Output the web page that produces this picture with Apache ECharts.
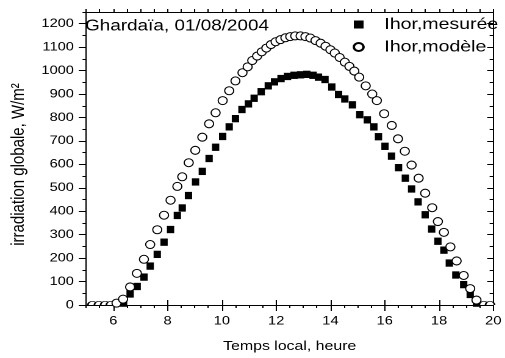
<!DOCTYPE html>
<html><head><meta charset="utf-8">
<script src="https://cdn.jsdelivr.net/npm/echarts@6/dist/echarts.min.js"></script>
<style>
html,body{margin:0;padding:0;background:#fff;overflow:hidden}
#wrap{width:505px;height:358px;overflow:hidden;position:relative;background:#fff}
#chart{width:414px;height:358px;transform:scaleX(1.22);transform-origin:0 0}
</style></head><body><div id="wrap"><div id="chart"></div></div>
<script>
// ---- data ----
const hoursMeasured = [6.38, 6.62, 6.88, 7.13, 7.36, 7.62, 7.87, 8.11, 8.36, 8.54, 8.77, 9.03, 9.28, 9.53, 9.77, 10.03, 10.27, 10.50, 10.74, 10.98, 11.19, 11.45, 11.71, 11.94, 12.18, 12.42, 12.66, 12.90, 13.13, 13.36, 13.56, 13.80, 14.05, 14.30, 14.53, 14.81, 15.08, 15.36, 15.60, 15.77, 16.01, 16.25, 16.51, 16.76, 16.99, 17.23, 17.49, 17.73, 17.96, 18.18, 18.38, 18.62, 18.91, 19.15, 19.38];
const irrMeasured = [8, 47, 79, 119, 166, 216, 268, 322, 382, 414, 467, 525, 570, 625, 673, 719, 760, 795, 834, 858, 882, 910, 935, 952, 966, 975, 980, 982, 984, 980, 972, 962, 930, 898, 879, 854, 812, 790, 760, 718, 677, 635, 586, 541, 495, 440, 385, 324, 272, 234, 179, 128, 87, 45, 8];
const hoursModel = [5.23, 5.47, 5.70, 5.91, 6.12, 6.36, 6.62, 6.87, 7.13, 7.36, 7.62, 7.87, 8.11, 8.36, 8.54, 8.78, 9.02, 9.28, 9.53, 9.77, 10.03, 10.27, 10.50, 10.76, 10.95, 11.12, 11.30, 11.47, 11.64, 11.81, 11.98, 12.16, 12.34, 12.52, 12.70, 12.90, 13.08, 13.26, 13.45, 13.64, 13.82, 14.00, 14.16, 14.34, 14.53, 14.70, 14.88, 15.06, 15.30, 15.54, 15.71, 15.98, 16.26, 16.49, 16.74, 16.99, 17.25, 17.49, 17.75, 17.96, 18.18, 18.42, 18.65, 18.91, 19.15, 19.38, 19.65, 19.88];
const irrModel = [0, 0, 0, 0, 8, 25, 77, 135, 195, 258, 321, 383, 447, 506, 547, 607, 660, 716, 773, 820, 872, 914, 956, 991, 1016, 1043, 1062, 1080, 1096, 1111, 1123, 1132, 1140, 1145, 1148, 1148, 1145, 1139, 1128, 1117, 1104, 1089, 1075, 1056, 1036, 1018, 998, 972, 935, 900, 872, 816, 766, 709, 656, 597, 541, 477, 415, 356, 310, 248, 188, 126, 70, 21, 0, 0];
const xTickLabels = [6, 8, 10, 12, 14, 16, 18, 20];
const yTickLabels = [0, 100, 200, 300, 400, 500, 600, 700, 800, 900, 1000, 1100, 1200];
const seriesNames = ['Ihor,mesurée', 'Ihor,modèle'];
const titleText = 'Ghardaïa, 01/08/2004';
const xTitle = 'Temps local, heure';
const yTitle = 'irradiation globale, W/m²';

// ---- chart ----
const FONT = '"Liberation Sans", Arial, Helvetica, sans-serif';
const BLACK = '#000';
const halfCircle = 'path://M0,10 A10,10 0 0 1 20,10';
const chart = echarts.init(document.getElementById('chart'), null, {renderer: 'canvas', devicePixelRatio: 2});
const plain = v => String(v);

function tickAxis(extra) {
  return Object.assign({
    type: 'value',
    splitLine: {show: false},
    axisLine: {show: false},
    axisLabel: {show: false},
    axisTick: {show: true, lineStyle: {color: BLACK, width: 1}}
  }, extra);
}

const option = {
  animation: false,
  backgroundColor: '#fff',
  title: {
    text: titleText, left: 69.7, top: 18, padding: 0,
    textStyle: {fontFamily: FONT, fontSize: 15.5, fontWeight: 'normal', color: BLACK}
  },
  legend: {
    orient: 'vertical', left: 289, top: 16.5, padding: 0,
    itemWidth: 8, itemHeight: 8, itemGap: 6.5, selectedMode: false,
    data: [{name: seriesNames[0], icon: 'rect'}, {name: seriesNames[1], icon: 'circle'}],
    textStyle: {fontFamily: FONT, fontSize: 16, color: BLACK, lineHeight: 16, padding: [0, 0, 0, 12]}
  },
  grid: {left: 65.57, right: 4.16, top: 12, bottom: 48, containLabel: false},
  xAxis: [
    {
      type: 'value', position: 'bottom', min: 5, max: 20, interval: 0.5,
      splitLine: {show: false},
      axisLine: {show: true, onZero: false, lineStyle: {color: BLACK, width: 1}},
      axisTick: {show: true, length: 3, lineStyle: {color: BLACK, width: 1}},
      axisLabel: {customValues: xTickLabels, formatter: plain, margin: 10, fontFamily: FONT, fontSize: 12, color: BLACK},
      name: xTitle, nameLocation: 'middle', nameGap: 35,
      nameTextStyle: {fontFamily: FONT, fontSize: 13, color: BLACK}
    },
    tickAxis({position: 'bottom', min: 5, max: 20, axisTick: {show: true, length: 6, customValues: xTickLabels, lineStyle: {color: BLACK, width: 1}}}),
    tickAxis({position: 'top', min: 5, max: 20, interval: 0.5, axisLine: {show: true, onZero: false, lineStyle: {color: BLACK, width: 1}}, axisTick: {show: true, length: 3, lineStyle: {color: BLACK, width: 1}}}),
    tickAxis({position: 'top', min: 5, max: 20, axisTick: {show: true, length: 5, customValues: xTickLabels, lineStyle: {color: BLACK, width: 1}}})
  ],
  yAxis: [
    {
      type: 'value', position: 'left', min: 0, max: 1250, interval: 50,
      splitLine: {show: false},
      axisLine: {show: true, onZero: false, lineStyle: {color: BLACK, width: 1}},
      axisTick: {show: true, length: 3, lineStyle: {color: BLACK, width: 1}},
      axisLabel: {customValues: yTickLabels, formatter: plain, margin: 10, fontFamily: FONT, fontSize: 12, color: BLACK},
      name: yTitle, nameLocation: 'middle', nameGap: 45, nameRotate: 90,
      nameTextStyle: {fontFamily: FONT, fontSize: 15, color: BLACK, padding: [0, 12, 0, 0]}
    },
    tickAxis({position: 'left', min: 0, max: 1250, axisTick: {show: true, length: 6, customValues: yTickLabels, lineStyle: {color: BLACK, width: 1}}}),
    tickAxis({position: 'right', min: 0, max: 1250, interval: 50, axisLine: {show: true, onZero: false, lineStyle: {color: BLACK, width: 1}}, axisTick: {show: true, inside: true, length: 3, lineStyle: {color: BLACK, width: 1}}}),
    tickAxis({position: 'right', min: 0, max: 1250, axisTick: {show: true, inside: true, length: 5, customValues: yTickLabels, lineStyle: {color: BLACK, width: 1}}})
  ],
  series: [
    {
      type: 'scatter', name: seriesNames[0], xAxisIndex: 0, yAxisIndex: 0,
      symbol: 'rect', symbolSize: [6, 7.3],
      itemStyle: {color: BLACK, opacity: 1},
      emphasis: {disabled: true},
      data: hoursMeasured.map((h, i) => [h, irrMeasured[i]])
    },
    {
      type: 'scatter', name: seriesNames[1], xAxisIndex: 0, yAxisIndex: 0,
      symbol: 'circle', symbolSize: [7.4, 8],
      itemStyle: {color: '#fff', borderColor: BLACK, borderWidth: 1, opacity: 1},
      emphasis: {disabled: true},
      data: hoursModel.map((h, i) => {
        const v = irrModel[i];
        return v <= 0
          ? {value: [h, v], symbol: halfCircle, symbolSize: [7.4, 3.7], symbolOffset: [0, -1.85]}
          : {value: [h, v]};
      })
    }
  ]
};
chart.setOption(option);
</script>
</body></html>
